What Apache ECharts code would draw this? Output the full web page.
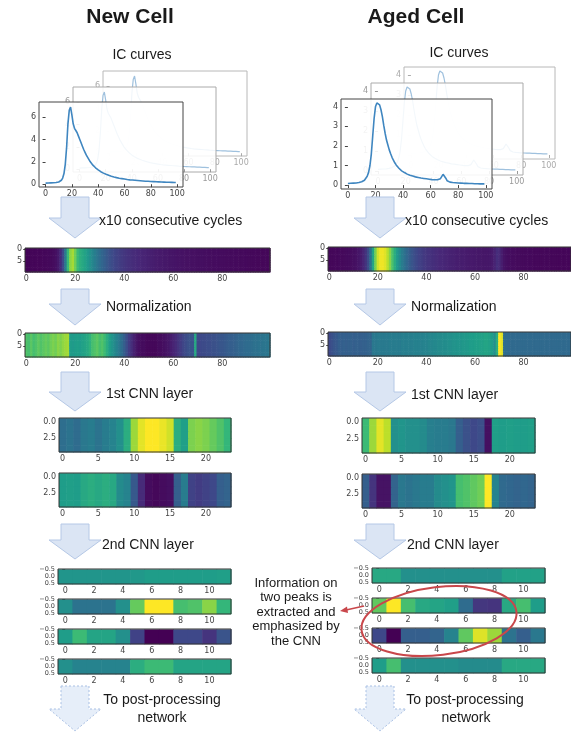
<!DOCTYPE html>
<html>
<head>
<meta charset="utf-8">
<script src="https://cdn.jsdelivr.net/npm/echarts@6/dist/echarts.min.js"></script>
<style>
  html, body { margin: 0; padding: 0; background: #fff; }
  #main { width: 571px; height: 732px; }
</style>
</head>
<body>
<div id="main"></div>
<script>
// IC curve of one cycle (dQ/dV, index = voltage step 0..99)
var newIC = [
  0.10, 0.10, 0.11, 0.11, 0.12, 0.12, 0.13, 0.14, 0.15, 0.17,
  0.20, 0.25, 0.35, 0.55, 0.95, 1.8, 3.3, 5.4, 6.6, 6.9,
  6.2, 5.4, 5.0, 4.8, 4.6, 4.3, 4.0, 3.7, 3.4, 3.1,
  2.85, 2.6, 2.4, 2.2, 2.0, 1.85, 1.7, 1.58, 1.47, 1.37,
  1.28, 1.2, 1.12, 1.05, 0.99, 0.94, 0.89, 0.84, 0.8, 0.76,
  0.72, 0.68, 0.65, 0.62, 0.59, 0.56, 0.54, 0.52, 0.5, 0.48,
  0.46, 0.44, 0.42, 0.41, 0.39, 0.38, 0.37, 0.36, 0.35, 0.34,
  0.33, 0.32, 0.31, 0.3, 0.29, 0.28, 0.27, 0.26, 0.26, 0.25,
  0.24, 0.24, 0.23, 0.22, 0.22, 0.21, 0.21, 0.2, 0.2, 0.19,
  0.19, 0.18, 0.18, 0.17, 0.17, 0.16, 0.16, 0.15, 0.15, 0.15
];
var agedIC = [
  0.08, 0.08, 0.09, 0.09, 0.1, 0.1, 0.11, 0.12, 0.13, 0.15,
  0.17, 0.2, 0.25, 0.33, 0.45, 0.65, 1.0, 1.6, 2.5, 3.4,
  4.0, 4.2, 4.2, 4.1, 3.85, 3.5, 3.05, 2.65, 2.3, 2.05,
  1.8, 1.6, 1.42, 1.27, 1.14, 1.03, 0.94, 0.86, 0.79, 0.73,
  0.68, 0.64, 0.6, 0.56, 0.53, 0.5, 0.48, 0.46, 0.44, 0.42,
  0.4, 0.39, 0.37, 0.36, 0.35, 0.34, 0.33, 0.32, 0.31, 0.3,
  0.29, 0.28, 0.28, 0.27, 0.27, 0.27, 0.28, 0.32, 0.42, 0.55,
  0.5, 0.35, 0.22, 0.17, 0.15, 0.14, 0.13, 0.12, 0.12, 0.11,
  0.11, 0.1, 0.1, 0.1, 0.09, 0.09, 0.09, 0.08, 0.08, 0.08,
  0.08, 0.07, 0.07, 0.07, 0.07, 0.06, 0.06, 0.06, 0.06, 0.06
];

// normalized input (0..1)
var newNorm = [
  0.72, 0.7, 0.74, 0.7, 0.72, 0.75, 0.72, 0.74, 0.76, 0.74,
  0.78, 0.8, 0.78, 0.82, 0.8, 0.83, 0.85, 0.86, 0.55, 0.54,
  0.55, 0.56, 0.55, 0.57, 0.58, 0.6, 0.64, 0.7, 0.72, 0.74,
  0.7, 0.72, 0.68, 0.62, 0.56, 0.52, 0.48, 0.44, 0.4, 0.35,
  0.3, 0.24, 0.18, 0.13, 0.09, 0.06, 0.04, 0.03, 0.03, 0.02,
  0.02, 0.02, 0.02, 0.02, 0.03, 0.03, 0.04, 0.05, 0.06, 0.08,
  0.1, 0.12, 0.15, 0.18, 0.21, 0.23, 0.25, 0.26, 0.26, 0.6,
  0.22, 0.22, 0.23, 0.23, 0.24, 0.24, 0.25, 0.25, 0.26, 0.27,
  0.27, 0.28, 0.29, 0.3, 0.3, 0.31, 0.32, 0.33, 0.33, 0.34,
  0.35, 0.35, 0.36, 0.37, 0.37, 0.38, 0.38, 0.39, 0.39, 0.4
];
var agedNorm = [
  0.22, 0.25, 0.27, 0.28, 0.3, 0.3, 0.31, 0.3, 0.31, 0.31,
  0.3, 0.31, 0.31, 0.3, 0.31, 0.31, 0.32, 0.32, 0.4, 0.4,
  0.41, 0.41, 0.41, 0.41, 0.41, 0.42, 0.42, 0.42, 0.42, 0.42,
  0.43, 0.43, 0.43, 0.43, 0.43, 0.44, 0.44, 0.44, 0.44, 0.45,
  0.45, 0.46, 0.46, 0.47, 0.47, 0.48, 0.48, 0.49, 0.49, 0.5,
  0.5, 0.51, 0.51, 0.52, 0.52, 0.53, 0.53, 0.54, 0.55, 0.55,
  0.56, 0.56, 0.57, 0.57, 0.58, 0.58, 0.57, 0.55, 0.5, 0.62,
  1.0, 0.96, 0.36, 0.35, 0.34, 0.34, 0.34, 0.34, 0.34, 0.34,
  0.34, 0.34, 0.34, 0.34, 0.34, 0.34, 0.34, 0.34, 0.34, 0.34,
  0.34, 0.34, 0.34, 0.34, 0.34, 0.34, 0.34, 0.34, 0.34, 0.34
];

// 1st CNN layer, two filters, 24 positions
var newCnn1A = [0.36, 0.38, 0.35, 0.4, 0.42, 0.38, 0.42, 0.45, 0.5, 0.62, 0.85, 0.96, 1.0, 1.0, 0.97, 0.93, 0.62, 0.56, 0.8, 0.82, 0.8, 0.76, 0.72, 0.66];
var newCnn1B = [0.55, 0.56, 0.55, 0.6, 0.62, 0.6, 0.62, 0.6, 0.48, 0.45, 0.28, 0.12, 0.03, 0.02, 0.03, 0.04, 0.3, 0.42, 0.2, 0.18, 0.2, 0.22, 0.3, 0.32];
var agedCnn1A = [0.68, 0.85, 0.96, 0.9, 0.5, 0.52, 0.5, 0.5, 0.48, 0.43, 0.42, 0.42, 0.4, 0.3, 0.25, 0.22, 0.24, 0.04, 0.56, 0.55, 0.56, 0.55, 0.55, 0.56];
var agedCnn1B = [0.3, 0.15, 0.05, 0.05, 0.32, 0.4, 0.38, 0.4, 0.42, 0.42, 0.48, 0.5, 0.52, 0.7, 0.72, 0.75, 0.78, 1.0, 0.45, 0.34, 0.33, 0.32, 0.33, 0.32];

// 2nd CNN layer, four filters, 12 positions
var newCnn2 = [
  [0.52, 0.52, 0.52, 0.52, 0.52, 0.53, 0.55, 0.55, 0.55, 0.55, 0.55, 0.56],
  [0.5, 0.38, 0.38, 0.38, 0.5, 0.76, 1.0, 1.0, 0.7, 0.72, 0.82, 0.66],
  [0.55, 0.68, 0.58, 0.58, 0.5, 0.2, 0.0, 0.0, 0.22, 0.22, 0.15, 0.26],
  [0.5, 0.45, 0.45, 0.45, 0.45, 0.62, 0.68, 0.68, 0.58, 0.58, 0.58, 0.58]
];
var agedCnn2 = [
  [0.6, 0.6, 0.5, 0.5, 0.5, 0.5, 0.5, 0.5, 0.5, 0.57, 0.57, 0.57],
  [0.75, 1.0, 0.7, 0.6, 0.58, 0.56, 0.35, 0.16, 0.15, 0.6, 0.7, 0.55],
  [0.22, 0.0, 0.3, 0.3, 0.32, 0.45, 0.75, 0.95, 0.85, 0.38, 0.3, 0.4],
  [0.55, 0.7, 0.5, 0.5, 0.5, 0.5, 0.48, 0.48, 0.48, 0.6, 0.6, 0.6]
];

// tick labels
var icTicksX = [0, 20, 40, 60, 80, 100];
var newIcTicksY = [0, 2, 4, 6];
var agedIcTicksY = [0, 1, 2, 3, 4];
var heatTicksX = [0, 20, 40, 60, 80];
var heatTicksY = [0, 5];
var cnn1TicksX = [0, 5, 10, 15, 20];
var cnn1TicksY = [0, 2.5];
var cnn2TicksX = [0, 2, 4, 6, 8, 10];
var cnn2TicksY = [-0.5, 0, 0.5];

var viridis = ['#440154', '#482878', '#3e4989', '#31688e', '#26828e', '#1f9e89', '#35b779', '#6ece58', '#b5de2b', '#fde725'];

var grids = [], xAxes = [], yAxes = [], series = [];

function addGrid(g, x, y) {
  grids.push(g);
  var i = grids.length - 1;
  x.gridIndex = i;
  y.gridIndex = i;
  xAxes.push(x);
  yAxes.push(y);
  return i;
}

function axis(min, max, ticks, opt) {
  opt = opt || {};
  var a = {
    type: 'value', min: min, max: max, inverse: !!opt.inverse, z: opt.z || 0,
    axisLine: { show: false },
    splitLine: { show: false },
    axisTick: { show: true, length: 3, customValues: ticks, lineStyle: { color: opt.color || '#444' } },
    axisLabel: { customValues: ticks, fontSize: opt.fontSize || 8, margin: 3, color: opt.color || '#444',
      fontFamily: 'DejaVu Sans', hideOverlap: false, showMinLabel: true, showMaxLabel: true }
  };
  if (opt.fmt) a.axisLabel.formatter = opt.fmt;
  return a;
}

function oneDecimal(v) {
  return (v < 0 ? '\u2212' : '') + Math.abs(v).toFixed(1);
}

function renderCell(params, api) {
  var a = api.coord([api.value(0) - 0.5, api.value(1) - 0.5]);
  var b = api.coord([api.value(0) + 0.5, api.value(1) + 0.5]);
  return {
    type: 'rect',
    shape: {
      x: Math.min(a[0], b[0]), y: Math.min(a[1], b[1]),
      width: Math.abs(b[0] - a[0]) + 0.6, height: Math.abs(b[1] - a[1]) + 0.6
    },
    style: { fill: api.visual('color') }
  };
}

// heatmap: every row shows the same profile (consecutive cycles / filter output)
function heatmap(box, rows, profile, ticksX, ticksY, fmtY) {
  var gi = addGrid(
    { left: box[0], top: box[1], width: box[2], height: box[3], show: true, z: 3,
      backgroundColor: 'transparent', borderColor: '#333', borderWidth: 1 },
    axis(-0.5, profile.length - 0.5, ticksX),
    axis(-0.52, rows - 0.48, ticksY, { inverse: true, fmt: fmtY, fontSize: rows === 1 ? 6.5 : 8 })
  );
  var data = [];
  for (var r = 0; r < rows; r++) {
    for (var c = 0; c < profile.length; c++) data.push([c, r, profile[c]]);
  }
  series.push({
    type: 'custom', xAxisIndex: gi, yAxisIndex: gi, renderItem: renderCell,
    encode: { x: 0, y: 1 }, data: data, silent: true
  });
  return series.length - 1;
}

// stacked IC-curve panels: back, middle, front
function icStack(boxes, curve, ymin, ymax, ticksY) {
  var styles = [
    { border: '#b8b8b8', text: '#aaa', line: '#9fc1de', bg: 'rgba(255,255,255,0)' },
    { border: '#aaa', text: '#999', line: '#9fc1de', bg: 'rgba(255,255,255,0.86)' },
    { border: '#444', text: '#444', line: '#3f86c0', bg: 'rgba(255,255,255,0.88)' }
  ];
  boxes.forEach(function (b, k) {
    var s = styles[k];
    var gi = addGrid(
      { left: b[0], top: b[1], width: b[2], height: b[3], show: true, z: k * 2,
        backgroundColor: s.bg, borderColor: s.border, borderWidth: 1 },
      axis(-5, 104.5, icTicksX, { color: s.text, z: k * 2 + 1 }),
      axis(ymin, ymax, ticksY, { color: s.text, z: k * 2 + 1 })
    );
    series.push({
      type: 'line', xAxisIndex: gi, yAxisIndex: gi, showSymbol: false, silent: true,
      z: k * 2 + 1,
      lineStyle: { color: s.line, width: k === 2 ? 1.6 : 1.2 },
      data: curve.map(function (v, i) { return [i, v]; })
    });
  });
}

icStack([[103, 71, 144, 85], [73, 87, 143, 85], [39, 102, 144, 85]], newIC, -0.25, 7.35, newIcTicksY);
icStack([[404, 67, 151, 92], [371, 83, 152, 92], [341, 99, 151, 90]], agedIC, -0.2, 4.4, agedIcTicksY);

var rawNew = heatmap([25, 248, 245, 24], 10, newIC, heatTicksX, heatTicksY);
var rawAged = heatmap([328, 247, 243, 24], 10, agedIC, heatTicksX, heatTicksY);
var scaled = [];
scaled.push(heatmap([25, 333, 245, 24], 10, newNorm, heatTicksX, heatTicksY));
scaled.push(heatmap([328, 332, 243, 24], 10, agedNorm, heatTicksX, heatTicksY));
scaled.push(heatmap([59, 418, 172, 34], 5, newCnn1A, cnn1TicksX, cnn1TicksY, oneDecimal));
scaled.push(heatmap([59, 473, 172, 34], 5, newCnn1B, cnn1TicksX, cnn1TicksY, oneDecimal));
scaled.push(heatmap([362, 418, 173, 35], 5, agedCnn1A, cnn1TicksX, cnn1TicksY, oneDecimal));
scaled.push(heatmap([362, 474, 173, 34], 5, agedCnn1B, cnn1TicksX, cnn1TicksY, oneDecimal));
var newTops = [569, 599, 629, 659];
var agedTops = [568, 598, 628, 658];
newCnn2.forEach(function (row, k) {
  scaled.push(heatmap([58, newTops[k], 173, 15], 1, row, cnn2TicksX, cnn2TicksY, oneDecimal));
});
agedCnn2.forEach(function (row, k) {
  scaled.push(heatmap([372, agedTops[k], 173, 15], 1, row, cnn2TicksX, cnn2TicksY, oneDecimal));
});

// graphics: arrows and captions
var textFont = 'Liberation Sans';
function blockArrow(cx, top, shoulder, tip, dashed) {
  return {
    type: 'polygon', z: 50,
    shape: { points: [[cx - 14, top], [cx + 14, top], [cx + 14, shoulder], [cx + 26, shoulder],
      [cx, tip], [cx - 26, shoulder], [cx - 14, shoulder]] },
    style: { fill: dashed ? '#e6eef9' : '#dbe5f4', stroke: dashed ? '#a9c0e4' : '#b5c8e6',
      lineWidth: 1, lineDash: dashed ? [2, 2] : null }
  };
}
function label(text, x, y, size, bold, align) {
  return {
    type: 'text', z: 60,
    style: { text: text, x: x, y: y, fontSize: size, fontFamily: textFont,
      fontWeight: bold ? 'bold' : 'normal', fill: '#1a1a1a',
      align: align || 'left', verticalAlign: 'middle' }
  };
}

var arrowRows = [[197, 218, 238], [289, 304, 325], [372, 392, 411], [524, 540, 559], [686, 709, 731]];
var graphics = [];
[75, 380].forEach(function (cx) {
  arrowRows.forEach(function (r, k) {
    graphics.push(blockArrow(cx, r[0], r[1], r[2], k === 4));
  });
});

graphics.push(label('New Cell', 130, 17, 21, true, 'center'));
graphics.push(label('Aged Cell', 416, 17, 21, true, 'center'));
graphics.push(label('IC curves', 142, 55, 14, false, 'center'));
graphics.push(label('IC curves', 459, 53, 14, false, 'center'));

graphics.push(label('x10 consecutive cycles', 99, 221, 14));
graphics.push(label('x10 consecutive cycles', 405, 221, 14));
graphics.push(label('Normalization', 106, 307, 14));
graphics.push(label('Normalization', 411, 307, 14));
graphics.push(label('1st CNN layer', 106, 394, 14));
graphics.push(label('1st CNN layer', 411, 395, 14));
graphics.push(label('2nd CNN layer', 102, 545, 14));
graphics.push(label('2nd CNN layer', 407, 545, 14));
graphics.push(label('To post-processing', 162, 700, 14, false, 'center'));
graphics.push(label('network', 162, 718, 14, false, 'center'));
graphics.push(label('To post-processing', 465, 700, 14, false, 'center'));
graphics.push(label('network', 466, 718, 14, false, 'center'));

graphics.push({
  type: 'text', z: 60,
  style: { text: 'Information on\ntwo peaks is\nextracted and\nemphasized by\nthe CNN',
    x: 296, y: 612, fontSize: 13, lineHeight: 14.5, fontFamily: textFont, fill: '#1a1a1a',
    align: 'center', verticalAlign: 'middle' }
});
graphics.push({
  type: 'ellipse', z: 70, x: 439, y: 621, rotation: 0.12,
  shape: { cx: 0, cy: 0, rx: 78, ry: 34 },
  style: { fill: 'none', stroke: '#c9474b', lineWidth: 2 }
});
graphics.push({
  type: 'line', z: 70,
  shape: { x1: 364, y1: 606, x2: 346, y2: 610 },
  style: { stroke: '#c9474b', lineWidth: 1.5 }
});
graphics.push({
  type: 'polygon', z: 70,
  shape: { points: [[340, 611], [347, 606.5], [348, 613]] },
  style: { fill: '#c9474b' }
});

var myChart = echarts.init(document.getElementById('main'));
myChart.setOption({
  animation: false,
  backgroundColor: '#fff',
  grid: grids,
  xAxis: xAxes,
  yAxis: yAxes,
  visualMap: [
    { type: 'continuous', show: false, dimension: 2, min: 0, max: 8, seriesIndex: rawNew, inRange: { color: viridis } },
    { type: 'continuous', show: false, dimension: 2, min: 0, max: 4.3, seriesIndex: rawAged, inRange: { color: viridis } },
    { type: 'continuous', show: false, dimension: 2, min: 0, max: 1, seriesIndex: scaled, inRange: { color: viridis } }
  ],
  series: series,
  graphic: graphics
});
</script>
</body>
</html>
